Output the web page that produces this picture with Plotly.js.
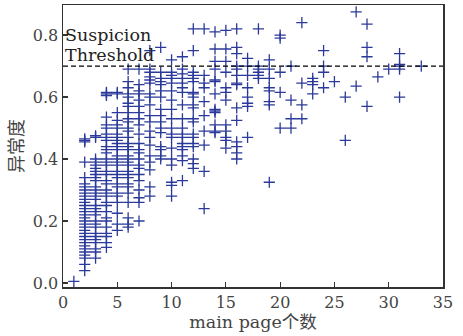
<!DOCTYPE html>
<html>
<head>
<meta charset="utf-8">
<script src="https://cdn.plot.ly/plotly-3.0.1.min.js"></script>
<style>html,body{margin:0;padding:0;background:#fff;}#chart{width:463px;height:336px;}</style>
</head>
<body>
<div id="chart"></div>
<script>
// anomaly scores grouped by number of main pages
const pages = [1,2,3,4,5,6,7,8,9,10,11,12,13,14,15,16,17,18,19,20,21,22,23,24,25,26,27,28,29,30,31,33];
const scores = [
  [0.005],
  [0.04,0.06,0.08,0.09,0.10,0.11,0.12,0.13,0.14,0.15,0.16,0.17,0.18,0.19,0.20,0.21,0.22,0.23,0.24,0.25,0.26,0.27,0.28,0.29,0.30,0.31,0.32,0.34,0.39,0.455,0.46,0.465],
  [0.08,0.10,0.11,0.13,0.14,0.15,0.16,0.18,0.19,0.20,0.22,0.23,0.24,0.25,0.27,0.28,0.29,0.30,0.31,0.33,0.34,0.35,0.36,0.37,0.38,0.39,0.40,0.47,0.475],
  [0.115,0.13,0.15,0.16,0.18,0.20,0.21,0.23,0.25,0.26,0.28,0.29,0.30,0.32,0.33,0.35,0.36,0.38,0.39,0.40,0.42,0.43,0.44,0.46,0.47,0.48,0.50,0.51,0.535,0.605,0.61,0.615],
  [0.17,0.19,0.225,0.26,0.28,0.29,0.31,0.32,0.34,0.35,0.36,0.38,0.39,0.40,0.41,0.43,0.44,0.45,0.46,0.47,0.48,0.50,0.51,0.525,0.55,0.61,0.615],
  [0.18,0.19,0.21,0.26,0.29,0.31,0.32,0.34,0.35,0.36,0.38,0.39,0.40,0.41,0.43,0.44,0.45,0.47,0.49,0.50,0.52,0.53,0.55,0.57,0.58,0.60,0.61,0.63,0.65,0.69],
  [0.20,0.26,0.275,0.30,0.33,0.35,0.37,0.38,0.40,0.42,0.43,0.45,0.48,0.51,0.53,0.55,0.57,0.59,0.61,0.62,0.64,0.69],
  [0.28,0.31,0.365,0.39,0.41,0.445,0.47,0.49,0.52,0.54,0.575,0.60,0.61,0.645,0.655,0.665,0.68,0.69,0.75],
  [0.40,0.41,0.43,0.44,0.485,0.50,0.52,0.54,0.56,0.60,0.62,0.64,0.65,0.66,0.68,0.76],
  [0.28,0.315,0.325,0.38,0.40,0.435,0.47,0.48,0.50,0.53,0.56,0.59,0.62,0.645,0.66,0.67,0.68,0.72],
  [0.33,0.395,0.41,0.43,0.44,0.45,0.47,0.48,0.50,0.53,0.575,0.615,0.63,0.645,0.66,0.675,0.69,0.73],
  [0.37,0.385,0.40,0.44,0.45,0.47,0.48,0.52,0.53,0.565,0.575,0.60,0.61,0.615,0.65,0.66,0.67,0.68,0.75,0.82],
  [0.24,0.36,0.445,0.49,0.54,0.585,0.63,0.645,0.67,0.82],
  [0.485,0.49,0.51,0.55,0.555,0.56,0.61,0.65,0.655,0.69,0.715,0.755,0.81],
  [0.435,0.46,0.47,0.49,0.51,0.59,0.615,0.63,0.68,0.715,0.755,0.815],
  [0.40,0.42,0.44,0.455,0.525,0.565,0.64,0.645,0.67,0.69,0.70,0.74,0.76,0.82],
  [0.47,0.57,0.58,0.60,0.63,0.67,0.70,0.725],
  [0.66,0.67,0.68,0.69,0.70,0.82],
  [0.325,0.575,0.585,0.62,0.63,0.66,0.69,0.72],
  [0.50,0.615,0.68,0.79,0.80],
  [0.50,0.53,0.59,0.70],
  [0.53,0.575,0.645,0.84],
  [0.61,0.64,0.65,0.66],
  [0.63,0.68,0.70,0.75],
  [0.65],
  [0.46,0.60],
  [0.635,0.875],
  [0.57,0.73,0.76,0.835],
  [0.665],
  [0.69],
  [0.60,0.69,0.70,0.705,0.74],
  [0.70]
];
const threshold = 0.7;
const thresholdLines = ["Suspicion", "Threshold"];
const xTitle = "main page个数";
const yTitle = "异常度";

const xs = [], ys = [];
pages.forEach((p, i) => scores[i].forEach(v => { xs.push(p); ys.push(v); }));

const serif = "DejaVu Serif, Noto Sans CJK SC, serif";

const traces = [
  {
    x: xs, y: ys, type: 'scatter', mode: 'markers',
    marker: {symbol: 'cross-thin-open', size: 8, line: {color: '#2b3a9a', width: 1.3}, color: '#2b3a9a'},
    hoverinfo: 'x+y', showlegend: false
  },
  {
    x: [0, 35], y: [threshold, threshold], type: 'scatter', mode: 'lines',
    line: {color: '#000', width: 1.3, dash: '5px,3px'}, showlegend: false, hoverinfo: 'skip'
  }
];

const layout = {
  width: 463, height: 336,
  margin: {l: 63, r: 20, t: 5, b: 49},
  paper_bgcolor: '#fff', plot_bgcolor: '#fff',
  font: {family: serif, size: 16, color: '#333'},
  xaxis: {
    range: [0, 35], tickvals: [0,5,10,15,20,25,30,35],
    ticks: 'inside', ticklen: 5, tickwidth: 1.2, tickcolor: '#333',
    showline: true, linecolor: '#333', linewidth: 1.5, mirror: true,
    showgrid: false, zeroline: false,
    tickfont: {family: serif, size: 16, color: '#444'},
    title: {text: xTitle, font: {family: serif, size: 17.5, color: '#444'}, standoff: 3}
  },
  yaxis: {
    range: [-0.013, 0.897], tickvals: [0, 0.2, 0.4, 0.6, 0.8], ticktext: ['0.0','0.2','0.4','0.6','0.8'],
    ticks: 'inside', ticklen: 5, tickwidth: 1.2, tickcolor: '#333',
    showline: true, linecolor: '#333', linewidth: 1.5, mirror: true,
    showgrid: false, zeroline: false,
    tickfont: {family: serif, size: 16, color: '#444'},
    title: {text: yTitle, font: {family: serif, size: 18, color: '#444'}, standoff: 4}
  },
  annotations: [
    {
      x: 0.1, y: threshold + 0.066, xref: 'x', yref: 'y', xanchor: 'left', yanchor: 'bottom',
      text: thresholdLines[0], showarrow: false, align: 'left', borderpad: 0,
      font: {family: serif, size: 17.5, color: '#222'}
    },
    {
      x: 0.1, y: threshold + 0.001, xref: 'x', yref: 'y', xanchor: 'left', yanchor: 'bottom',
      text: thresholdLines[1], showarrow: false, align: 'left', borderpad: 0,
      font: {family: serif, size: 17.5, color: '#222'}
    }
  ]
};

Plotly.newPlot('chart', traces, layout, {displayModeBar: false, staticPlot: true});
</script>
</body>
</html>
